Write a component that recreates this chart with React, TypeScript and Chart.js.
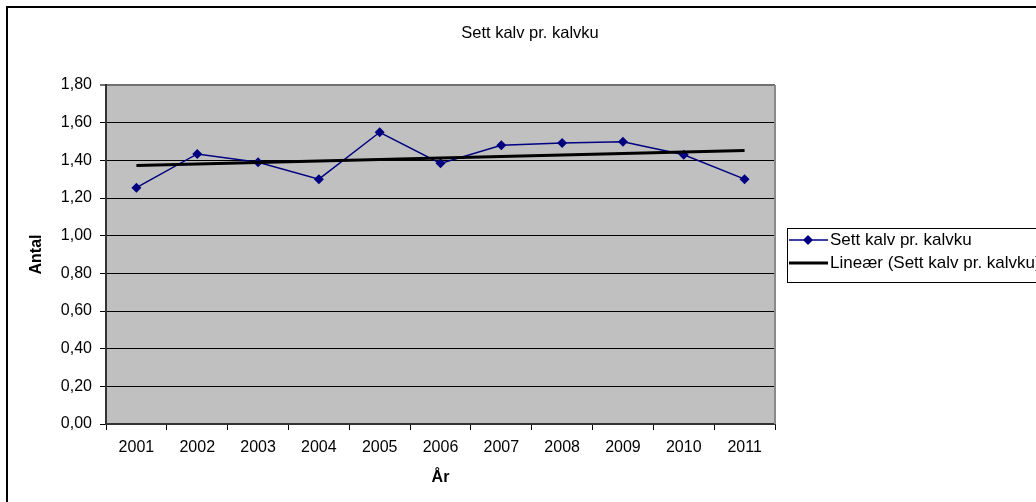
import React, { useEffect, useRef } from "react";
import { Chart, registerables } from "chart.js";

Chart.register(...registerables);

const years = ["2001", "2002", "2003", "2004", "2005", "2006", "2007", "2008", "2009", "2010", "2011"];
const seriesValues = [1.255, 1.434, 1.39, 1.3, 1.549, 1.384, 1.48, 1.492, 1.499, 1.43, 1.3];
const trendValues = [1.372, null, null, null, null, null, null, null, null, null, 1.452];
const titleText = "Sett kalv pr. kalvku";
const seriesLabel = "Sett kalv pr. kalvku";
const trendLabel = "Lineær (Sett kalv pr. kalvku)";
const yTitle = "Antal";
const xTitle = "År";

const FONT = "'Liberation Sans', Arial, sans-serif";

const decorPlugin = {
  id: "decor",
  beforeDraw(chart: any) {
    const { ctx, chartArea: a } = chart;
    ctx.save();
    ctx.fillStyle = "#ffffff";
    ctx.fillRect(0, 0, chart.width, chart.height);
    ctx.fillStyle = "#c0c0c0";
    ctx.fillRect(a.left, a.top, a.right - a.left, a.bottom - a.top);
    ctx.restore();
  },
  beforeDatasetsDraw(chart: any) {
    const { ctx, chartArea: a } = chart;
    ctx.save();
    ctx.strokeStyle = "#8a8a8a";
    ctx.lineWidth = 2;
    ctx.beginPath();
    ctx.moveTo(a.right, a.top);
    ctx.lineTo(a.right, a.bottom);
    ctx.stroke();
    ctx.restore();
  },
  afterDraw(chart: any) {
    const { ctx } = chart;
    ctx.save();
    // outer border
    ctx.strokeStyle = "#000";
    ctx.lineWidth = 2;
    ctx.strokeRect(7, 7, 1100, 600);
    // title
    ctx.fillStyle = "#000";
    ctx.font = `16.5px ${FONT}`;
    ctx.textAlign = "center";
    ctx.textBaseline = "middle";
    ctx.fillText(titleText, 530, 33);
    // legend box
    ctx.lineWidth = 1;
    ctx.strokeRect(787.5, 228.5, 400, 54);
    // item 1
    ctx.strokeStyle = "#000080";
    ctx.lineWidth = 1.5;
    ctx.beginPath();
    ctx.moveTo(789, 240);
    ctx.lineTo(828, 240);
    ctx.stroke();
    ctx.fillStyle = "#000080";
    ctx.beginPath();
    ctx.moveTo(808, 235);
    ctx.lineTo(813, 240);
    ctx.lineTo(808, 245);
    ctx.lineTo(803, 240);
    ctx.closePath();
    ctx.fill();
    // item 2
    ctx.strokeStyle = "#000";
    ctx.lineWidth = 3;
    ctx.beginPath();
    ctx.moveTo(789, 263);
    ctx.lineTo(828, 263);
    ctx.stroke();
    ctx.fillStyle = "#000";
    ctx.textAlign = "left";
    ctx.font = `17px ${FONT}`;
    ctx.fillText(seriesLabel, 830, 240);
    ctx.fillText(trendLabel, 830, 263);
    ctx.restore();
  },
};

export default function App() {
  const ref = useRef<HTMLCanvasElement | null>(null);
  useEffect(() => {
    if (!ref.current) return;
    const chart = new Chart(ref.current, {
      type: "line",
      data: {
        labels: years,
        datasets: [
          {
            label: seriesLabel,
            data: seriesValues,
            borderColor: "#000080",
            backgroundColor: "#000080",
            borderWidth: 1.5,
            pointStyle: "rectRot",
            pointRadius: 5,
            pointBorderWidth: 0,
            tension: 0,
            order: 2,
          },
          {
            label: trendLabel,
            data: trendValues,
            borderColor: "#000000",
            borderWidth: 3,
            pointRadius: 0,
            spanGaps: true,
            order: 1,
          },
        ],
      },
      options: {
        responsive: false,
        animation: false,
        layout: { padding: { left: 0, top: 85, right: 261, bottom: 0 } },
        plugins: {
          legend: { display: false },
          title: { display: false },
          tooltip: { enabled: false },
        },
        scales: {
          x: {
            type: "category",
            offset: true,
            grid: {
              offset: true,
              drawOnChartArea: false,
              drawTicks: true,
              tickLength: 6,
              color: "#000",
            },
            border: { display: true, color: "#333", width: 2 },
            ticks: {
              color: "#000",
              font: { family: FONT, size: 16 },
              padding: 8,
              maxRotation: 0,
            },
            title: {
              display: true,
              text: xTitle,
              color: "#000",
              font: { family: FONT, size: 16, weight: "bold" },
              padding: { top: 0, bottom: 15 },
            },
            afterFit: (s: any) => {
              s.height = 78;
            },
          },
          y: {
            min: 0,
            max: 1.8,
            grid: {
              color: (c: any) => (c.tick && Math.abs(c.tick.value - 1.8) < 1e-6 ? "#707070" : "#000"),
              lineWidth: (c: any) => (c.tick && Math.abs(c.tick.value - 1.8) < 1e-6 ? 2 : 1),
              tickLength: 6,
              drawTicks: true,
            },
            border: { display: true, color: "#333", width: 2 },
            ticks: {
              stepSize: 0.2,
              color: "#000",
              font: { family: FONT, size: 16 },
              padding: 8,
              callback: (v: any) => Number(v).toFixed(2).replace(".", ","),
            },
            title: {
              display: true,
              text: yTitle,
              color: "#000",
              font: { family: FONT, size: 16, weight: "bold" },
              padding: { top: 27, bottom: 0 },
            },
            afterFit: (s: any) => {
              s.width = 106;
            },
          },
        },
      },
      plugins: [decorPlugin],
    });
    return () => chart.destroy();
  }, []);
  return (
    <div style={{ position: "absolute", left: 0, top: 0, width: 1036, height: 502 }}>
      <canvas ref={ref} width={1036} height={502} style={{ display: "block" }} />
    </div>
  );
}
